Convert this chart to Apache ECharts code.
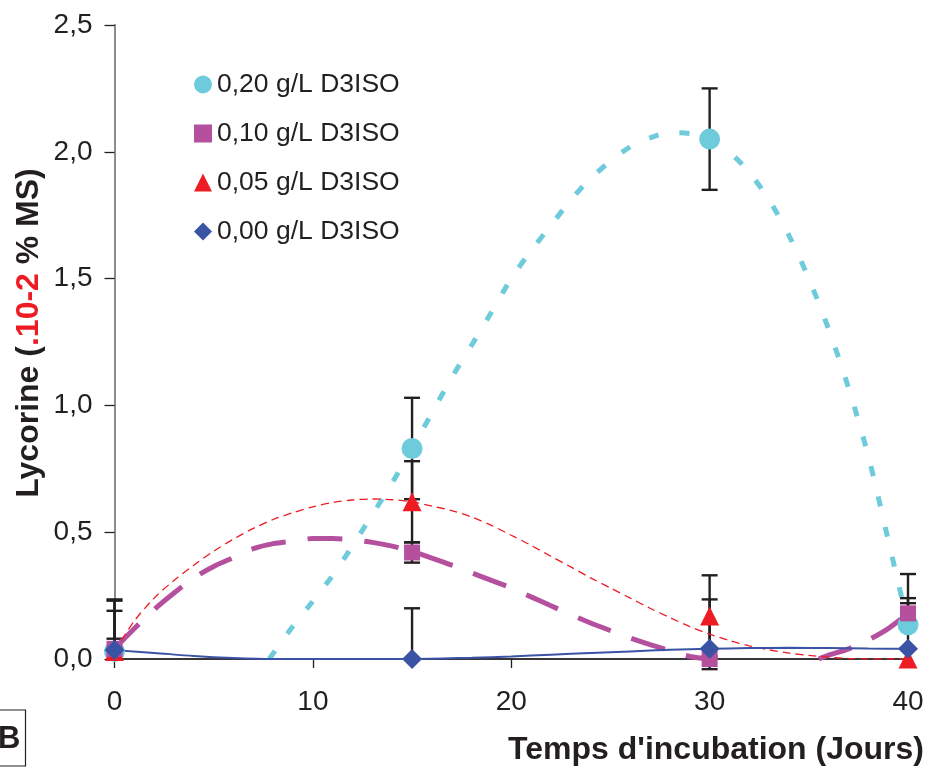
<!DOCTYPE html>
<html><head><meta charset="utf-8">
<script src="https://cdn.jsdelivr.net/npm/echarts@6/dist/echarts.min.js"></script>
<style>html,body{margin:0;padding:0;background:#fff}#c{width:927px;height:769px}</style>
</head><body><div id="c"></div>
<script>
// ---------- data ----------
const days = [0, 15, 30, 40];
const seriesNames = ['0,20 g/L D3ISO', '0,10 g/L D3ISO', '0,05 g/L D3ISO', '0,00 g/L D3ISO'];

const vals020 = [0.03, 0.83, 2.05, 0.135];
const vals010 = [0.04, 0.42, 0.0, 0.18];
const vals005 = [0.03, 0.62, 0.17, 0.0];
const vals000 = [0.035, 0.0, 0.04, 0.04];

// error bar bounds (low / high)
const low020 = [0.03, 0.63, 1.85, 0.135];
const high020 = [0.23, 1.03, 2.25, 0.335];
const low010 = [0.0, 0.38, -0.04, 0.14];
const high010 = [0.08, 0.46, 0.04, 0.22];
const low005 = [0.0, 0.46, 0.01, 0.0];
const high005 = [0.19, 0.78, 0.33, 0.0];
const low000 = [0.035, 0.0, 0.04, 0.04];
const high000 = [0.235, 0.2, 0.235, 0.24];

// trend curves
const trend020X = [7.8, 9, 10, 11, 12, 13, 14, 15, 16, 17, 18, 19, 20, 21, 22, 23, 24, 25, 26, 27, 28, 29, 30, 31, 32, 33, 34, 35, 36, 37, 38, 39, 40];
const trend020Y = [0, 0.13, 0.228, 0.33, 0.447, 0.57, 0.695, 0.83, 0.97, 1.11, 1.237, 1.367, 1.5, 1.61, 1.71, 1.81, 1.895, 1.963, 2.02, 2.055, 2.075, 2.072, 2.045, 1.998, 1.918, 1.81, 1.67, 1.5, 1.3, 1.07, 0.8, 0.47, 0.135];

const trend010X = [0, 1, 2, 3, 4, 5, 6, 7, 8, 9, 10, 11, 12, 13, 14, 15, 16, 17, 18, 19, 20, 21, 22, 23, 24, 25, 26, 27, 28, 29, 30, 32, 35.5, 36, 37, 38, 39, 40];
const trend010Y = [0.04, 0.12, 0.195, 0.26, 0.32, 0.365, 0.4, 0.435, 0.455, 0.465, 0.475, 0.475, 0.47, 0.46, 0.445, 0.425, 0.398, 0.37, 0.34, 0.31, 0.28, 0.245, 0.21, 0.175, 0.142, 0.112, 0.083, 0.057, 0.033, 0.01, 0, '-', 0, 0.015, 0.04, 0.075, 0.12, 0.18];

const trend005X = [0, 1, 2, 3, 4, 5, 6, 7, 8, 9, 10, 11, 12, 13, 14, 15, 16, 17, 18, 19, 20, 21, 22, 23, 24, 25, 26, 27, 28, 29, 30, 31, 32, 33, 34, 35, 36, 37, 38, 39, 40];
const trend005Y = [0.03, 0.15, 0.24, 0.31, 0.37, 0.425, 0.473, 0.515, 0.55, 0.577, 0.6, 0.617, 0.627, 0.631, 0.628, 0.62, 0.603, 0.585, 0.56, 0.527, 0.488, 0.448, 0.405, 0.363, 0.32, 0.28, 0.24, 0.2, 0.163, 0.128, 0.098, 0.073, 0.052, 0.036, 0.023, 0.014, 0.007, 0.002, 0, 0, 0];

const trend000X = [0, 2, 4, 6, 8, 10, 12, 15, 18, 20, 22, 24, 26, 28, 30, 32, 34, 36, 38, 40];
const trend000Y = [0.035, 0.024, 0.012, 0.004, 0, 0, 0, 0, 0.005, 0.01, 0.017, 0.024, 0.03, 0.036, 0.04, 0.043, 0.044, 0.043, 0.041, 0.04];

const xTickValues = [0, 10, 20, 30, 40];
const yTickLabels = ['0,0', '0,5', '1,0', '1,5', '2,0', '2,5'];

// ---------- styling ----------
const FONT = 'Liberation Sans, Arial, Helvetica, sans-serif';
const TXT = '#231f20';
const C020 = '#6dcbdb', C010 = '#b5509e', C005 = '#ed1c24', C000 = '#3a53a4';

const zip = (a, b) => a.map((v, i) => [v, b[i]]);
const errData = (lo, hi) => days.map((d, i) => [d, lo[i], hi[i]]);

function errorSeries(lo, hi) {
  return {
    type: 'custom', z: 3, clip: false, silent: true,
    data: errData(lo, hi),
    renderItem: function (params, api) {
      const x = api.value(0);
      const pLo = api.coord([x, api.value(1)]);
      const pHi = api.coord([x, api.value(2)]);
      if (Math.abs(pLo[1] - pHi[1]) < 0.5) return null;
      const w = 8;
      const st = { stroke: TXT, lineWidth: 2.4 };
      return {
        type: 'group', children: [
          { type: 'line', shape: { x1: pLo[0], y1: pLo[1], x2: pHi[0], y2: pHi[1] }, style: st },
          { type: 'line', shape: { x1: pLo[0] - w, y1: pLo[1], x2: pLo[0] + w, y2: pLo[1] }, style: st },
          { type: 'line', shape: { x1: pHi[0] - w, y1: pHi[1], x2: pHi[0] + w, y2: pHi[1] }, style: st }
        ]
      };
    }
  };
}

function trend(xs, ys, color, width, dash) {
  return {
    type: 'line', z: 4, data: zip(xs, ys), showSymbol: false, smooth: 0.3,
    connectNulls: false, silent: true, clip: true,
    lineStyle: { color: color, width: width, type: dash, cap: 'butt' }
  };
}

function points(name, vals, color, symbol, size) {
  return {
    name: name, type: 'scatter', z: 6, data: zip(days, vals),
    symbol: symbol, symbolSize: size, clip: false,
    itemStyle: { color: color, opacity: 1 }
  };
}

const chart = echarts.init(document.getElementById('c'), null, { renderer: 'canvas' });

const option = {
  backgroundColor: '#fff',
  animation: false,
  textStyle: { fontFamily: FONT },
  grid: { left: 114.5, right: 19, top: 25, bottom: 110, containLabel: false },
  legend: {
    orient: 'vertical', left: 189, top: 66,
    itemWidth: 18, itemHeight: 18, itemGap: 22,
    data: seriesNames,
    textStyle: { fontFamily: FONT, fontSize: 26.5, color: TXT, lineHeight: 27 },
    selectedMode: false
  },
  xAxis: [{
    type: 'value', min: 0, max: 40, interval: 10,
    axisLine: { show: true, lineStyle: { color: '#555', width: 1.6 } },
    axisTick: { show: true, inside: false, length: 9, lineStyle: { color: TXT, width: 1.3 } },
    axisLabel: { fontFamily: FONT, fontSize: 28, color: TXT, margin: 29,
      formatter: v => xTickValues.indexOf(v) >= 0 ? String(v) : '' },
    splitLine: { show: false }
  }, {
    type: 'value', min: 0, max: 40, position: 'top',
    axisLine: { show: true, lineStyle: { color: TXT, width: 1.6 } },
    axisTick: { show: false }, axisLabel: { show: false }, splitLine: { show: false }
  }],
  yAxis: [{
    type: 'value', min: 0, max: 2.5, interval: 0.5,
    axisLine: { show: true, lineStyle: { color: TXT, width: 1.6 } },
    axisTick: { show: true, inside: false, length: 10, lineStyle: { color: TXT, width: 1.3 } },
    axisLabel: { fontFamily: FONT, fontSize: 28, color: TXT, margin: 22,
      formatter: v => yTickLabels[Math.round(v / 0.5)] },
    splitLine: { show: false }
  }, {
    type: 'value', min: 0, max: 2.5, position: 'right',
    axisLine: { show: true, lineStyle: { color: '#8c8c8c', width: 2 } },
    axisTick: { show: false }, axisLabel: { show: false }, splitLine: { show: false }
  }],
  graphic: [
    {
      type: 'text', x: 29, y: 333, rotation: Math.PI / 2,
      style: {
        text: '{a|Lycorine (}{r|.10-2}{a| % MS)}',
        align: 'center', verticalAlign: 'middle',
        rich: {
          a: { fontFamily: FONT, fontSize: 32, fontWeight: 'bold', fill: TXT },
          r: { fontFamily: FONT, fontSize: 32, fontWeight: 'bold', fill: '#ed1c24' }
        }
      }
    },
    {
      type: 'text', x: 924, y: 750,
      style: { text: "Temps d'incubation (Jours)", align: 'right', verticalAlign: 'middle',
        fontFamily: FONT, fontSize: 32, fontWeight: 'bold', fill: TXT }
    },
    {
      type: 'rect', shape: { x: -1, y: 710, width: 26.5, height: 56 },
      style: { fill: '#fff', stroke: TXT, lineWidth: 1.2 }
    },
    {
      type: 'text', x: -2, y: 739,
      style: { text: 'B', align: 'left', verticalAlign: 'middle',
        fontFamily: FONT, fontSize: 31, fontWeight: 'bold', fill: TXT }
    }
  ],
  series: [
    errorSeries(low020, high020),
    errorSeries(low010, high010),
    errorSeries(low005, high005),
    errorSeries(low000, high000),
    trend(trend020X, trend020Y, C020, 5, [10, 21]),
    trend(trend010X, trend010Y, C010, 5, [35, 22]),
    trend(trend005X, trend005Y, C005, 1.3, [8, 5]),
    trend(trend000X, trend000Y, C000, 2, 'solid'),
    points(seriesNames[0], vals020, C020, 'circle', 21),
    points(seriesNames[2], vals005, C005, 'triangle', 19),
    points(seriesNames[1], vals010, C010, 'rect', 16),
    points(seriesNames[3], vals000, C000, 'diamond', 20)
  ]
};
chart.setOption(option);
</script>
</body></html>
